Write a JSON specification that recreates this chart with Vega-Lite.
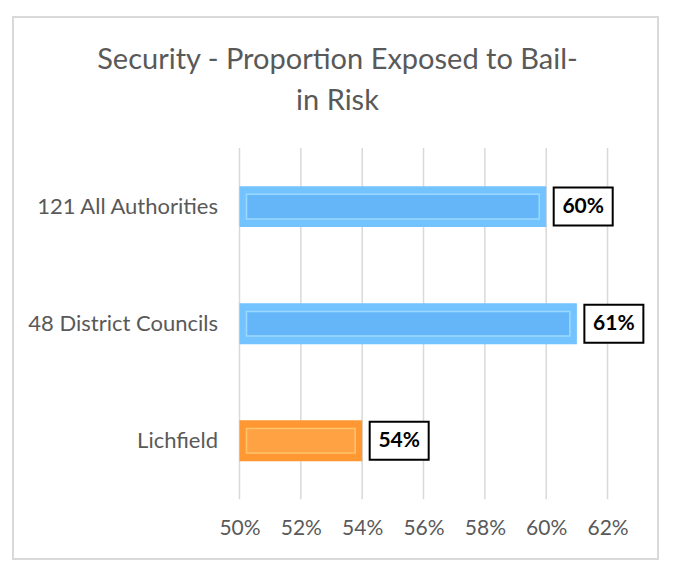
{
  "$schema": "https://vega.github.io/schema/vega-lite/v6.json",
  "autosize": "none",
  "width": 645,
  "height": 542,
  "padding": {"left": 13, "top": 17, "right": 20, "bottom": 22},
  "background": "white",
  "config": {
    "font": "Lato",
    "view": {"stroke": "#d9d9d9", "strokeWidth": 2, "fill": "white"}
  },
  "title": {
    "text": ["Security - Proportion Exposed to Bail-", "in Risk"],
    "font": "Lato",
    "fontSize": 29,
    "fontWeight": "normal",
    "color": "#595959",
    "lineHeight": 41,
    "anchor": "middle",
    "offset": -99,
    "dx": 2
  },
  "datasets": {
    "bars": [
      {"name": "121 All Authorities", "value": 0.60},
      {"name": "48 District Councils", "value": 0.61},
      {"name": "Lichfield", "value": 0.54}
    ],
    "ticks": [
      {"tick": 0.50}, {"tick": 0.52}, {"tick": 0.54}, {"tick": 0.56},
      {"tick": 0.58}, {"tick": 0.60}, {"tick": 0.62}
    ]
  },
  "layer": [
    {
      "data": {"name": "ticks"},
      "mark": {"type": "rule", "color": "#d9d9d9", "strokeWidth": 1.5},
      "encoding": {
        "x": {"field": "tick", "type": "quantitative"},
        "y": {"datum": "121 All Authorities", "type": "nominal", "bandPosition": 0},
        "y2": {"datum": "Lichfield", "bandPosition": 1}
      }
    },
    {
      "data": {"name": "bars"},
      "mark": {"type": "bar", "height": {"band": 0.35}},
      "encoding": {
        "x": {"field": "value", "type": "quantitative"},
        "x2": {"datum": 0.5},
        "y": {"field": "name", "type": "nominal"},
        "color": {
          "condition": {"test": "datum.name === 'Lichfield'", "value": "#ff9833"},
          "value": "#72c3ff"
        }
      }
    },
    {
      "data": {"name": "bars"},
      "mark": {"type": "bar", "height": {"band": 0.21}, "xOffset": -7, "x2Offset": 7, "strokeWidth": 1.5},
      "encoding": {
        "x": {"field": "value", "type": "quantitative"},
        "x2": {"datum": 0.5},
        "y": {"field": "name", "type": "nominal"},
        "color": {
          "condition": {"test": "datum.name === 'Lichfield'", "value": "#ffa244"},
          "value": "#64b6f8"
        },
        "stroke": {
          "condition": {"test": "datum.name === 'Lichfield'", "value": "#ffc46c"},
          "value": "#9cd9ff"
        }
      }
    },
    {
      "data": {"name": "bars"},
      "mark": {
        "type": "point",
        "shape": "M-1,-0.644H1V0.644H-1Z",
        "size": 3481,
        "filled": false,
        "fill": "white",
        "stroke": "black",
        "strokeWidth": 2,
        "opacity": 1,
        "xOffset": 37
      },
      "encoding": {
        "x": {"field": "value", "type": "quantitative"},
        "y": {"field": "name", "type": "nominal"}
      }
    },
    {
      "data": {"name": "bars"},
      "mark": {"type": "text", "font": "Lato", "fontSize": 21, "fontWeight": "bold", "color": "black", "xOffset": 37, "baseline": "middle", "align": "center"},
      "encoding": {
        "x": {"field": "value", "type": "quantitative"},
        "y": {"field": "name", "type": "nominal"},
        "text": {"field": "value", "format": ".0%"}
      }
    }
  ],
  "resolve": {"scale": {"x": "shared", "y": "shared"}},
  "encoding": {
    "x": {
      "type": "quantitative",
      "scale": {"domain": [0.42615, 0.63645], "nice": false, "zero": false},
      "axis": {
        "values": [0.5, 0.52, 0.54, 0.56, 0.58, 0.6, 0.62],
        "format": ".0%",
        "grid": false,
        "domain": false,
        "ticks": false,
        "title": null,
        "labelFont": "Lato",
        "labelFontSize": 21,
        "labelColor": "#595959",
        "offset": -44,
        "labelPadding": 2
      }
    },
    "y": {
      "type": "nominal",
      "sort": null,
      "scale": {"domain": ["121 All Authorities", "48 District Councils", "Lichfield"], "paddingInner": 0, "paddingOuter": 0.815, "align": 0.687},
      "axis": {
        "domain": false,
        "ticks": false,
        "title": null,
        "labelFont": "Lato",
        "labelFontSize": 22,
        "labelColor": "#595959",
        "labelPadding": 22,
        "labelLimit": 400,
        "offset": -226.5
      }
    }
  }
}
